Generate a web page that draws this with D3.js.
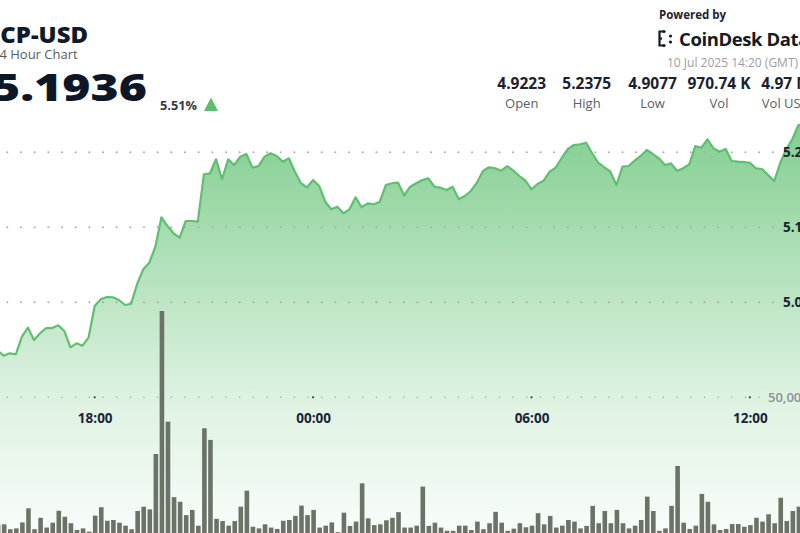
<!DOCTYPE html>
<html>
<head>
<meta charset="utf-8">
<script src="https://cdn.jsdelivr.net/npm/d3@7"></script>
<style>
  body { margin: 0; background: #fff; }
  svg { display: block; font-family: "Open Sans", sans-serif; }
</style>
</head>
<body>
<svg id="chart" width="800" height="533"></svg>
<script>
// 10 minute candles, first visible one at 15:20 (9 Jul)
var startTime = new Date(2025, 6, 9, 15, 20);
var stepMinutes = 10;

var prices = [
  4.9355, 4.9288, 4.9320, 4.9307, 4.9541, 4.9661, 4.9497, 4.9587, 4.9657, 4.9657,
  4.9693, 4.9617, 4.9400, 4.9453, 4.9421, 4.9533, 4.9951, 5.0040, 5.0071, 5.0067,
  5.0031, 4.9964, 4.9981, 5.0244, 5.0440, 5.0528, 5.0741, 5.1133, 5.1017, 5.0920,
  5.0861, 5.1084, 5.1084, 5.1075, 5.1707, 5.1720, 5.1907, 5.1640, 5.1907, 5.1831,
  5.1941, 5.1977, 5.1795, 5.1817, 5.1941, 5.1987, 5.1951, 5.1875, 5.1920, 5.1741,
  5.1587, 5.1533, 5.1631, 5.1551, 5.1341, 5.1240, 5.1275, 5.1187, 5.1240, 5.1400,
  5.1267, 5.1320, 5.1307, 5.1341, 5.1564, 5.1587, 5.1595, 5.1424, 5.1541, 5.1587,
  5.1631, 5.1653, 5.1541, 5.1528, 5.1497, 5.1541, 5.1373, 5.1417, 5.1484, 5.1595,
  5.1751, 5.1800, 5.1787, 5.1755, 5.1817, 5.1755, 5.1684, 5.1621, 5.1507, 5.1577,
  5.1621, 5.1741, 5.1795, 5.1928, 5.2044, 5.2097, 5.2107, 5.2128, 5.1987, 5.1861,
  5.1800, 5.1741, 5.1564, 5.1808, 5.1817, 5.1888, 5.1951, 5.2031, 5.1977, 5.1920,
  5.1831, 5.1853, 5.1751, 5.1787, 5.1840, 5.2084, 5.2061, 5.2173, 5.2053, 5.2008,
  5.2044, 5.1884, 5.1875, 5.1871, 5.1861, 5.1787, 5.1777, 5.1697, 5.1617, 5.1857,
  5.2044, 5.2177, 5.2364, 5.2375
];

var volumes = [
  2900, 3200, 1400, 1700, 3900, 9100, 1400, 5600, 2000, 3800,
  8200, 6000, 3600, 1100, 1700, 500, 6400, 9500, 4500, 4800,
  3800, 2700, 1400, 8100, 9700, 8700, 29100, 81800, 41000, 13200,
  11500, 6600, 8500, 2700, 38600, 34300, 5200, 4400, 2700, 4400,
  9700, 15600, 2300, 1700, 3200, 2000, 1500, 4500, 4800, 6300,
  10100, 6600, 8500, 2000, 2700, 3900, 300, 7500, 2600, 4200,
  18300, 5400, 2900, 3200, 4700, 5600, 7700, 2000, 2000, 2700,
  17100, 2600, 3800, 2000, 800, 800, 2700, 2700, 1100, 4200,
  1400, 3600, 7800, 3800, 800, 1600, 3600, 2100, 2700, 7300,
  3200, 6300, 2000, 2700, 4800, 4200, 1700, 2600, 10000, 3600,
  8100, 3600, 8500, 3600, 1700, 2700, 4800, 13400, 8100, 800,
  1700, 10000, 24700, 3800, 1500, 2700, 14400, 11500, 3200, 1100,
  1500, 3300, 3300, 2300, 2900, 5600, 4200, 6900, 3600, 13000,
  4400, 8100, 9700
];

var timeTicks = [
  new Date(2025, 6, 9, 18, 0),
  new Date(2025, 6, 10, 0, 0),
  new Date(2025, 6, 10, 6, 0),
  new Date(2025, 6, 10, 12, 0)
];
var priceTicks = [5.0, 5.1, 5.2];
var volumeTicks = [50000];

var statValues = ["4.9223", "5.2375", "4.9077", "970.74 K", "4.97 M"];
var statLabels = ["Open", "High", "Low", "Vol", "Vol USD"];

var pair = "ICP-USD";
var subtitle = "24 Hour Chart";
var lastPrice = "5.1936";
var change = "5.51%";
var stamp = "10 Jul 2025 14:20 (GMT)";

var W = 800, H = 533;
var svg = d3.select("#chart");

var rows = prices.map(function(p, i) {
  return { t: new Date(startTime.getTime() + i * stepMinutes * 60000), price: p, vol: volumes[i] };
});

var x = d3.scaleTime()
  .domain([timeTicks[0], timeTicks[3]])
  .range([94.7, 749.9]);
var y = d3.scaleLinear().domain([5.0, 5.2]).range([302.3, 152.3]);
var yVol = d3.scaleLinear().domain([0, 50000]).range([533, 397.3]);

var defs = svg.append("defs");
var grad = defs.append("linearGradient")
  .attr("id", "fillGrad")
  .attr("gradientUnits", "userSpaceOnUse")
  .attr("x1", 0).attr("y1", 115).attr("x2", 0).attr("y2", 533);
grad.append("stop").attr("offset", "0%").attr("stop-color", "#5cbf6e").attr("stop-opacity", 0.78);
grad.append("stop").attr("offset", "68%").attr("stop-color", "#5cbf6e").attr("stop-opacity", 0.2);
grad.append("stop").attr("offset", "100%").attr("stop-color", "#5cbf6e").attr("stop-opacity", 0.04);

// area + line
var area = d3.area()
  .x(function(d) { return x(d.t); })
  .y0(H)
  .y1(function(d) { return y(d.price); });
var line = d3.line()
  .x(function(d) { return x(d.t); })
  .y(function(d) { return y(d.price); });

svg.append("path").datum(rows).attr("d", area).attr("fill", "url(#fillGrad)");

// dotted grid
function dotted(yy, r, col) {
  svg.append("line")
    .attr("x1", 7.3).attr("x2", 777)
    .attr("y1", yy).attr("y2", yy)
    .attr("stroke", col)
    .attr("stroke-width", r)
    .attr("stroke-linecap", "round")
    .attr("stroke-dasharray", "0 13.67");
}
priceTicks.forEach(function(v) { dotted(y(v), 2, "#a9aaa9"); });
volumeTicks.forEach(function(v) { dotted(yVol(v), 1.5, "#9da39e"); });
svg.selectAll(".hourdot").data(timeTicks).enter().append("circle")
  .attr("cx", function(d) { return x(d); })
  .attr("cy", yVol(volumeTicks[0]))
  .attr("r", 1.1)
  .attr("fill", "#3a403b");

// volume bars
svg.selectAll(".bar").data(rows.filter(function(d) { return d.vol != null; })).enter().append("rect")
  .attr("x", function(d) { return x(d.t) - 1.8; })
  .attr("y", function(d) { return yVol(d.vol); })
  .attr("width", 4.6)
  .attr("height", function(d) { return H - yVol(d.vol); })
  .attr("fill", "#6b7369");

svg.append("path").datum(rows).attr("d", line)
  .attr("fill", "none")
  .attr("stroke", "#5fbf70")
  .attr("stroke-width", 2.2)
  .attr("stroke-linejoin", "round");

// axes
var xAxis = svg.append("g")
  .attr("transform", "translate(0,413.3)")
  .call(d3.axisBottom(x).tickValues(timeTicks).tickSize(0).tickPadding(0)
    .tickFormat(d3.timeFormat("%H:%M")));
xAxis.select(".domain").remove();
xAxis.selectAll("text")
  .attr("font-family", "Open Sans")
  .attr("font-size", 13.5)
  .attr("font-weight", 700)
  .attr("fill", "#1b2436");

var yAxis = svg.append("g")
  .attr("transform", "translate(783,0)")
  .call(d3.axisRight(y).tickValues(priceTicks).tickSize(0).tickPadding(0)
    .tickFormat(d3.format(".1f")));
yAxis.select(".domain").remove();
yAxis.selectAll("text")
  .attr("font-family", "Open Sans")
  .attr("font-size", 13.5)
  .attr("font-weight", 700)
  .attr("fill", "#1b2436");

var vAxis = svg.append("g")
  .attr("transform", "translate(768,0)")
  .call(d3.axisRight(yVol).tickValues(volumeTicks).tickSize(0).tickPadding(0)
    .tickFormat(d3.format(",")));
vAxis.select(".domain").remove();
vAxis.selectAll("text")
  .attr("font-family", "Open Sans")
  .attr("font-size", 13)
  .attr("font-weight", 600)
  .attr("fill", "#8b9096");

// header left
svg.append("text").attr("x", -8).attr("y", 42.5)
  .attr("font-size", 22.5).attr("font-weight", 800).attr("fill", "#111a2b")
  .attr("textLength", 96).attr("lengthAdjust", "spacingAndGlyphs")
  .text(pair);
svg.append("text").attr("x", -8).attr("y", 58.5)
  .attr("font-size", 13).attr("fill", "#555b63")
  .text(subtitle);
svg.append("text")
  .attr("transform", "translate(-8,100.5) scale(1.3,1)")
  .attr("font-size", 37).attr("font-weight", 800).attr("fill", "#0e1727")
  .text(lastPrice);
svg.append("text").attr("x", 160).attr("y", 109.5)
  .attr("font-size", 13).attr("font-weight", 700).attr("fill", "#343a42")
  .attr("textLength", 37).attr("lengthAdjust", "spacingAndGlyphs")
  .text(change);
svg.append("path")
  .attr("d", d3.line()([[204, 111], [218, 111], [211, 97.5]]) + "Z")
  .attr("fill", "#5cbd6d");

// header right
svg.append("text").attr("x", 659).attr("y", 18.5)
  .attr("font-size", 11.5).attr("font-weight", 700).attr("fill", "#1d2230")
  .text("Powered by");
var logo = svg.append("g").attr("fill", "none").attr("stroke", "#161a22").attr("stroke-width", 2.2);
logo.append("path").attr("d", "M664,31.5 H659.5 V45.5 H664");
logo.append("path").attr("d", "M659.5,38.5 H662");
[[664, 31.5], [664, 45.5], [670.5, 36], [670.5, 42]].forEach(function(p) {
  svg.append("circle").attr("cx", p[0]).attr("cy", p[1]).attr("r", 1.6).attr("fill", "#161a22");
});
svg.append("text").attr("x", 679).attr("y", 46)
  .attr("font-size", 18.5).attr("font-weight", 700).attr("fill", "#161a22")
  .attr("letter-spacing", -0.4)
  .text("CoinDesk Data");
svg.append("text").attr("x", 667).attr("y", 67)
  .attr("font-size", 12).attr("fill", "#9a9ea4")
  .text(stamp);

var statX = [521.7, 586.7, 652.5, 719, 786];
svg.selectAll(".sv").data(statValues).enter().append("text")
  .attr("x", function(d, i) { return statX[i]; })
  .attr("y", 89)
  .attr("text-anchor", "middle")
  .attr("font-size", 15.5).attr("font-weight", 700).attr("fill", "#1a2130")
  .text(function(d) { return d; });
svg.selectAll(".sl").data(statLabels).enter().append("text")
  .attr("x", function(d, i) { return statX[i]; })
  .attr("y", 107.5)
  .attr("text-anchor", "middle")
  .attr("font-size", 13).attr("fill", "#5a6068")
  .text(function(d) { return d; });
</script>
</body>
</html>
